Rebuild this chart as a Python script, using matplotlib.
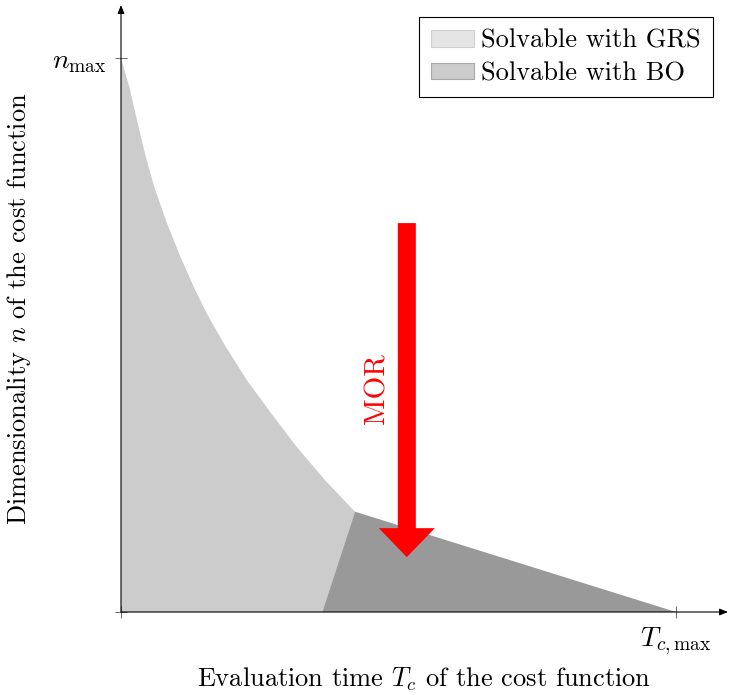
import numpy as np
import matplotlib
matplotlib.use("Agg")
import matplotlib.pyplot as plt
from matplotlib.patches import FancyArrow

plt.rcParams['font.family'] = 'serif'
plt.rcParams['font.serif'] = ['cmr10']
plt.rcParams['mathtext.fontset'] = 'cm'
plt.rcParams['axes.unicode_minus'] = False

# ==============================
# Data (fractions of T_c,max and n_max)
# ==============================
grs_T = [0.0, 0.0157, 0.0294, 0.0438, 0.0607, 0.0816, 0.1058, 0.1324, 0.1544,
         0.1886, 0.2265, 0.2703, 0.3166, 0.3676, 0.4186, 0.422]
grs_n = [1.0, 0.945, 0.885, 0.825, 0.765, 0.705, 0.644, 0.584, 0.539,
         0.479, 0.419, 0.359, 0.298, 0.238, 0.184, 0.181]

bo_T = [0.363, 0.422, 1.0]
bo_n = [0.0, 0.181, 0.0]

mor_T = 0.515
mor_start = 0.702
mor_end = 0.099

xticks = [0, 1]
xticklabels = ['', r'$T_{c,\max}$']
yticks = [0, 1]
yticklabels = ['', r'$n_{\max}$']

# ==============================
# Figure
# ==============================
fig = plt.figure(figsize=(7.3, 6.95), dpi=100)
ax = fig.add_axes([121 / 730, 83 / 695, 607 / 730, 607 / 695])
ax.set_xlim(0, 607 / 555)
ax.set_ylim(0, 607 / 554)

# regions
ax.fill(grs_T + [grs_T[-1], 0.0], grs_n + [0.0, 0.0], color='#cccccc', lw=0, zorder=1)
ax.fill(bo_T, bo_n, color='#999999', lw=0, zorder=2)

# legend handles
ax.fill([], [], facecolor='#e5e5e5', edgecolor='#d0d0d0', lw=0.8,
        label='Solvable with GRS')
ax.fill([], [], facecolor='#cccccc', edgecolor='#a8a8a8', lw=0.8,
        label='Solvable with BO')

# MOR arrow
ax.add_patch(FancyArrow(mor_T, mor_start, 0, mor_end - mor_start,
                        width=18 / 555, head_width=56 / 555, head_length=29 / 554,
                        length_includes_head=True, color='red', lw=0, zorder=5))
ax.text(0.461, 0.4025, 'MOR', color='red', rotation=90, ha='center',
        va='center', fontsize=21)

# axes with arrows
for s in ax.spines.values():
    s.set_visible(False)
ax.annotate('', xy=(1, 0), xytext=(0, 0), xycoords='axes fraction',
            arrowprops=dict(arrowstyle='-|>,head_length=0.5,head_width=0.2',
                            color='black', lw=0.8, shrinkA=0, shrinkB=0))
ax.annotate('', xy=(0, 1), xytext=(0, 0), xycoords='axes fraction',
            arrowprops=dict(arrowstyle='-|>,head_length=0.5,head_width=0.2',
                            color='black', lw=0.8, shrinkA=0, shrinkB=0))

ax.set_xticks(xticks)
ax.set_xticklabels(xticklabels)
ax.set_yticks(yticks)
ax.set_yticklabels(yticklabels)
ax.tick_params(direction='inout', length=8, width=0.6, colors='#555555',
               labelcolor='black', labelsize=20, pad=6)

ax.set_xlabel(r'Evaluation time $T_c$ of the cost function', fontsize=19)
ax.xaxis.set_label_coords(0.5, -0.088)
ax.set_ylabel(r'Dimensionality $n$ of the cost function', fontsize=19)
ax.yaxis.set_label_coords(-0.145, 0.5)

leg = ax.legend(loc='upper right', bbox_to_anchor=(0.975, 0.98), borderaxespad=0,
                fancybox=False, framealpha=1, edgecolor='black', fontsize=19,
                handlelength=1.65, handleheight=0.6, handletextpad=0.27,
                labelspacing=0.33, borderpad=0.45)
leg.get_frame().set_linewidth(0.8)

fig.savefig('out.png', dpi=100)
